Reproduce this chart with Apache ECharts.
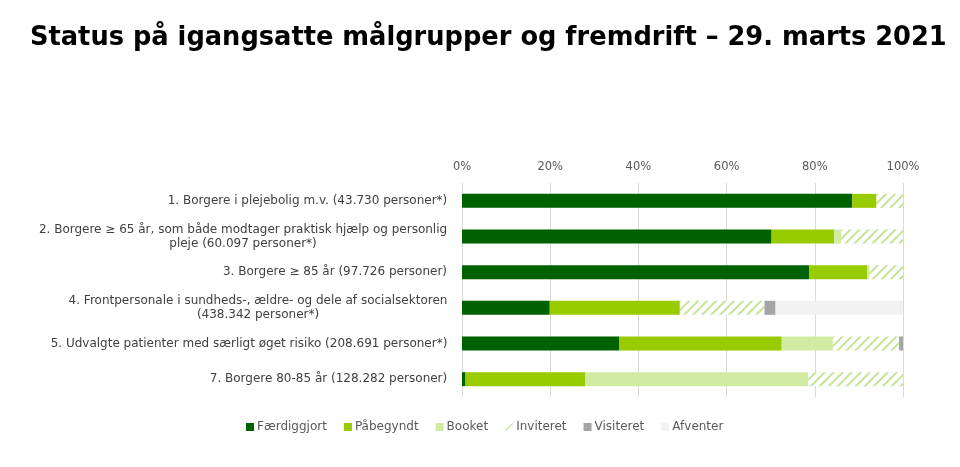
<!DOCTYPE html>
<html>
<head>
<meta charset="utf-8">
<script src="https://cdn.jsdelivr.net/npm/echarts@6/dist/echarts.min.js"></script>
<style>html,body{margin:0;padding:0;background:#fff}#c{width:960px;height:467px}</style>
</head>
<body>
<div id="c"></div>
<script>
var titleText = 'Status på igangsatte målgrupper og fremdrift – 29. marts 2021';
var categories = [
  '1. Borgere i plejebolig m.v. (43.730 personer*)',
  '2. Borgere ≥ 65 år, som både modtager praktisk hjælp og personlig\npleje (60.097 personer*)',
  '3. Borgere ≥ 85 år (97.726 personer)',
  '4. Frontpersonale i sundheds-, ældre- og dele af socialsektoren\n(438.342 personer*)',
  '5. Udvalgte patienter med særligt øget risiko (208.691 personer*)',
  '7. Borgere 80-85 år (128.282 personer)'
];
var seriesNames = ['Færdiggjort', 'Påbegyndt', 'Booket', 'Inviteret', 'Visiteret', 'Afventer'];
var faerdiggjort = [88.5, 70.2, 78.7, 19.9, 35.6, 0.8];
var paabegyndt   = [5.5, 14.2, 13.2, 29.5, 36.9, 27.2];
var booket       = [0, 1.6, 0.5, 0, 11.6, 50.5];
var inviteret    = [6.0, 14.0, 7.6, 19.2, 15.0, 21.5];
var visiteret    = [0, 0, 0, 2.5, 0.9, 0];
var afventer     = [0, 0, 0, 28.9, 0, 0];
var tickLabels = ['0%', '20%', '40%', '60%', '80%', '100%'];

var FONT = 'DejaVu Sans';
var hatchColor = '#c5e59a';

// hatch pattern
var pc = document.createElement('canvas');
pc.width = 9; pc.height = 9;
var px = pc.getContext('2d');
px.fillStyle = '#ffffff'; px.fillRect(0, 0, 9, 9);
px.strokeStyle = hatchColor; px.lineWidth = 2;
px.beginPath();
px.moveTo(-2, 11); px.lineTo(11, -2);
px.moveTo(-2, 2); px.lineTo(2, -2);
px.moveTo(7, 11); px.lineTo(11, 7);
px.stroke();

// measure label lines for centered multi-line labels
var mc = document.createElement('canvas').getContext('2d');
mc.font = '12px "' + FONT + '"';
var rich = {};
categories.forEach(function (c, i) {
  var w = 0;
  c.split('\n').forEach(function (l) { w = Math.max(w, mc.measureText(l).width); });
  rich['c' + i] = { width: Math.ceil(w) + 1, align: 'center', fontSize: 12, fontFamily: FONT, color: '#404040', lineHeight: 14 };
});

var values = [faerdiggjort, paabegyndt, booket, inviteret, visiteret, afventer];
var colors = ['#006100', '#99cc00', '#d1eba3', {image: pc, repeat: 'repeat'}, '#a5a5a5', '#f2f2f2'];
var legendColors = ['#006100', '#99cc00', '#d1eba3', hatchColor, '#a5a5a5', '#f2f2f2'];

var series = seriesNames.map(function (n, i) {
  return {
    name: n, type: 'bar', stack: 'all', barWidth: 14,
    itemStyle: { color: colors[i] },
    emphasis: { disabled: true },
    data: values[i]
  };
});

var chart = echarts.init(document.getElementById('c'), null, { renderer: 'canvas' });
chart.setOption({
  animation: false,
  backgroundColor: '#ffffff',
  title: {
    text: titleText, left: 30, top: 25, padding: 0,
    textStyle: { fontFamily: FONT, fontWeight: 'bold', fontSize: 25.7, color: '#000000' }
  },
  legend: {
    left: 241, top: 416, itemWidth: 8, itemHeight: 8, itemGap: 17,
    textStyle: { fontFamily: FONT, fontSize: 12, color: '#595959', padding: [0, 0, 0, -2] },
    data: seriesNames.map(function (n, i) {
      var d = { name: n, itemStyle: { color: legendColors[i] } };
      if (i === 3) d.icon = 'path://M0,9 L8,1 L9,2 L1,10 Z';
      else d.icon = 'rect';
      return d;
    })
  },
  grid: { left: 462, right: 57, top: 183, bottom: 70, containLabel: false },
  xAxis: {
    type: 'value', position: 'top', min: 0, max: 100, interval: 20,
    axisLine: { show: false }, axisTick: { show: false },
    splitLine: { lineStyle: { color: '#d9d9d9', width: 1 } },
    axisLabel: {
      margin: 10, fontFamily: FONT, fontSize: 11.5, color: '#595959',
      formatter: function (v) { return tickLabels[Math.round(v / 20)]; }
    }
  },
  yAxis: {
    type: 'category', inverse: true, data: categories,
    axisLine: { show: false }, axisTick: { show: false },
    axisLabel: {
      margin: 14, fontFamily: FONT, fontSize: 12, color: '#404040',
      formatter: function (v, i) {
        var idx = categories.indexOf(v);
        return v.split('\n').map(function (l) { return '{c' + idx + '|' + l + '}'; }).join('\n');
      },
      rich: rich
    }
  },
  series: series
});
</script>
</body>
</html>
